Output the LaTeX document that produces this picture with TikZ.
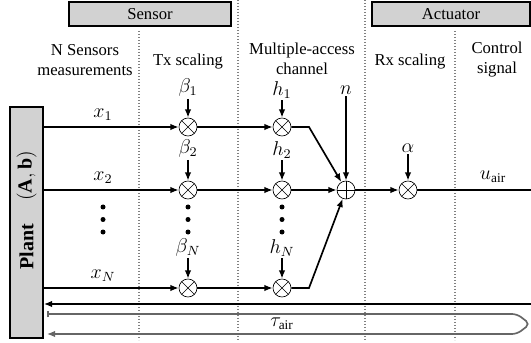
\documentclass[tikz,border=0pt]{standalone}
\usepackage{fontspec}
\setmainfont{Liberation Serif}
\usepackage{amsmath}
\usetikzlibrary{positioning,arrows.meta,calc}

\begin{document}
\begin{tikzpicture}[x=0.6pt, y=-0.6pt,
    >={Latex[length=5pt,width=4pt]},
    sig/.style={line width=1pt},
    sep/.style={gray, densely dotted, line width=0.8pt},
    hdr/.style={draw, fill=gray!35, line width=1pt},
    ttl/.style={align=center, inner sep=0.5pt},
    lbl/.style={font=\large, inner sep=1pt},
    mult/.style={circle, draw, inner sep=0pt, minimum size=10.8pt, fill=white,
        path picture={\draw (path picture bounding box.north west) -- (path picture bounding box.south east)
                            (path picture bounding box.north east) -- (path picture bounding box.south west);}},
    adder/.style={circle, draw, inner sep=0pt, minimum size=10.8pt, fill=white,
        path picture={\draw (path picture bounding box.north) -- (path picture bounding box.south)
                            (path picture bounding box.east) -- (path picture bounding box.west);}},
    dot/.style={circle, fill, inner sep=0pt, minimum size=3pt}]
        \useasboundingbox (0,0) rectangle (531,343);

        % Separators
        \draw[sep] (139,31) -- (139,340);
        \draw[sep] (238,0) -- (238,340);
        \draw[sep] (365,0) -- (365,340);
        \draw[sep] (455,31) -- (455,340);

        % Headers
        \draw[hdr] (69,2) rectangle (231,26) node[pos=.5] (sensor) {Sensor};
        \draw[hdr] (372,2) rectangle (530,26) node[pos=.5] (actuator) {Actuator};

        % Column titles
        \node[ttl] (tmeas) at (85,60) {N Sensors\\measurements};
        \node[ttl] (ttx) at (188,62) {Tx scaling};
        \node[ttl] (tmac) at (302,59) {Multiple-access\\channel};
        \node[ttl] (trx) at (410,62) {Rx scaling};
        \node[ttl] (tctrl) at (497,60) {Control\\signal};

        % Plant
        \node[draw, fill=gray!35, line width=1pt, inner sep=0pt, minimum width=19.8pt, minimum height=138.6pt] (plant) at (26.5,222.5) {};
        \node[rotate=90, font=\large\bfseries] (plname) at (26.5,247) {Plant};
        \node[rotate=90, font=\large] (plpar) at (26.5,176) {$(\mathbf{A},\mathbf{b})$};

        % Blocks
        \foreach \i/\y in {1/127, 2/190, N/288} {
            \node[mult] (tx\i) at (188,\y) {};
            \node[mult] (ch\i) at (282,\y) {};
        }
        \node[adder] (sum) at (346,190) {};
        \node[mult] (rx) at (408,190) {};

        % Labels
        \node[lbl] (x1) at (103,115) {$x_1$};
        \node[lbl] (x2) at (103,178) {$x_2$};
        \node[lbl] (xN) at (103,276) {$x_N$};
        \node[lbl] (b1) at (188,88) {$\beta_1$};
        \node[lbl] (b2) at (188,149) {$\beta_2$};
        \node[lbl] (bN) at (188,247) {$\beta_N$};
        \node[lbl] (h1) at (282,90) {$h_1$};
        \node[lbl] (h2) at (282,150) {$h_2$};
        \node[lbl] (hN) at (282,248) {$h_N$};
        \node[lbl] (n) at (346,90) {$n$};
        \node[lbl] (alpha) at (408,148) {$\alpha$};
        \node[lbl] (uair) at (493,177) {$u_{\mathrm{air}}$};
        \node[lbl] (tau) at (282,324) {$\tau_{\mathrm{air}}$};

        % Dots
        \foreach \x in {103,188,282}
            \foreach \y [count=\j] in {207,219.5,232}
                \node[dot] (d-\x-\j) at (\x,\y) {};

        % Signals
        \coordinate (k1) at (309,127);
        \coordinate (kN) at (309,288);
        \coordinate (out) at (531,190);
        \coordinate (fb) at (531,304);
        \coordinate (tip) at (530,324);
        \foreach \i in {1,2,N} {
            \draw[sig,->] (plant.east |- tx\i) -- (tx\i);
            \draw[sig,->] (tx\i) -- (ch\i);
            \draw[sig,->] (b\i) -- (tx\i);
            \draw[sig,->] (h\i) -- (ch\i);
        }
        \draw[sig,->] (ch1) -- (k1) -- (sum);
        \draw[sig,->] (ch2) -- (sum);
        \draw[sig,->] (chN) -- (kN) -- (sum);
        \draw[sig,->] (n) -- (sum);
        \draw[sig,->] (sum) -- (rx);
        \draw[sig,->] (alpha) -- (rx);
        \draw[sig] (rx) -- (out);
        \draw[sig,->] (fb) -- (plant.east |- fb);

        % Delay
        \draw[sig, gray!80!black, {Bar[width=4pt]}-{Latex[length=5pt,width=4pt]}, rounded corners=3pt]
            ($(plant.east |- tip)+(3,-10)$) -- (517,314) -- (tip) -- (517,334) -- ($(plant.east |- tip)+(3,10)$);
    \end{tikzpicture}
\end{document}
